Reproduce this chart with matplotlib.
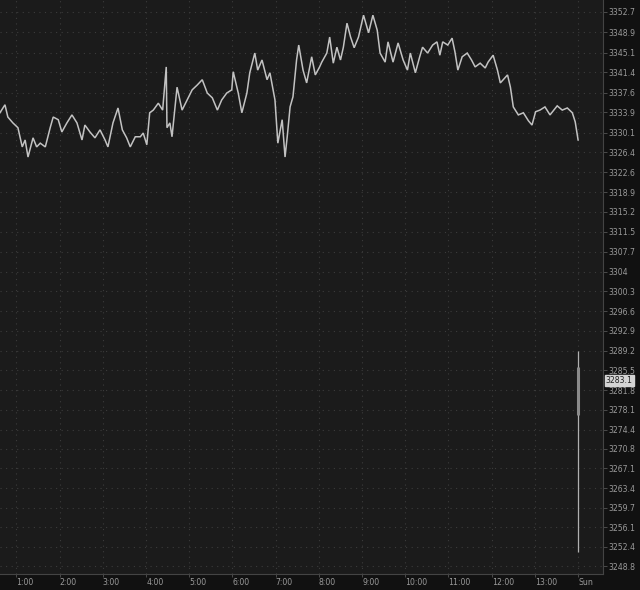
import matplotlib
matplotlib.use("Agg")
import matplotlib.pyplot as plt

# time in minutes since midnight, price values
minutes = [37, 44, 48, 55, 62, 68, 72, 76, 83, 88, 93, 100, 107, 111, 118, 123, 130, 137,
           144, 151, 155, 162, 169, 176, 183, 187, 194, 201, 207, 213, 218, 225, 232, 236,
           241, 245, 250, 257, 263, 268, 269, 273, 276, 283, 290, 297, 304, 311, 318, 325,
           332, 339, 345, 352, 359, 361, 368, 373, 380, 384, 391, 395, 401, 408, 412, 419,
           423, 429, 433, 436, 440, 444, 449, 452, 458, 463, 470, 475, 481, 484, 491, 495,
           500, 505, 510, 514, 519, 524, 529, 535, 542, 549, 555, 561, 565, 572, 576, 583,
           590, 597, 603, 607, 614, 620, 624, 631, 638, 644, 648, 652, 659, 665, 669, 673,
           679, 686, 692, 697, 704, 711, 715, 722, 728, 732, 736, 742, 746, 750, 757, 764,
           771, 776, 781, 787, 794, 801, 811, 818, 825, 832, 836, 840]
prices = [3333.8, 3335.3, 3333.0, 3331.9, 3331.0, 3327.4, 3328.7, 3325.5, 3329.1, 3327.4,
          3328.1, 3327.4, 3331.1, 3333.0, 3332.5, 3330.2, 3331.9, 3333.4, 3331.9, 3328.7,
          3331.5, 3330.2, 3329.1, 3330.6, 3328.7, 3327.4, 3331.9, 3334.7, 3330.6, 3329.1,
          3327.4, 3329.3, 3329.3, 3330.0, 3327.8, 3333.8, 3334.3, 3335.6, 3334.3, 3342.4,
          3331.0, 3331.9, 3329.3, 3338.6, 3334.3, 3336.2, 3338.1, 3339.0, 3340.0, 3337.5,
          3336.6, 3334.3, 3336.2, 3337.5, 3338.1, 3341.5, 3337.5, 3333.8, 3337.5, 3341.3,
          3345.0, 3341.8, 3343.7, 3340.0, 3341.3, 3336.2, 3328.1, 3332.5, 3325.5, 3329.3,
          3334.9, 3336.8, 3343.7, 3346.5, 3341.8, 3339.4, 3344.3, 3340.9, 3342.4, 3343.3,
          3345.0, 3348.0, 3343.1, 3346.1, 3343.7, 3346.1, 3350.6, 3348.0, 3346.0, 3348.0,
          3352.1, 3348.8, 3352.1, 3349.3, 3345.0, 3343.3, 3347.1, 3343.3, 3346.9, 3343.7,
          3341.8, 3345.0, 3341.3, 3344.3, 3346.1, 3345.0, 3346.5, 3347.1, 3344.6, 3347.1,
          3346.5, 3347.8, 3345.2, 3341.8, 3344.3, 3345.0, 3343.7, 3342.4, 3343.1, 3342.2,
          3343.3, 3344.6, 3341.8, 3339.4, 3340.0, 3340.9, 3338.6, 3334.9, 3333.4, 3333.8,
          3332.3, 3331.5, 3334.0, 3334.3, 3334.9, 3333.4, 3335.1, 3334.3, 3334.7, 3333.8,
          3332.1, 3328.7]

# Sunday session candle
sun_minute = 840
sun_high, sun_low = 3289.1, 3251.5
sun_open, sun_close = 3286.2, 3277.1
last_price_label = "3283.1"
last_price = 3283.6

ytick_labels = ["3352.7", "3348.9", "3345.1", "3341.4", "3337.6", "3333.9", "3330.1",
                "3326.4", "3322.6", "3318.9", "3315.2", "3311.5", "3307.7", "3304",
                "3300.3", "3296.6", "3292.9", "3289.2", "3285.5", "3281.8", "3278.1",
                "3274.4", "3270.8", "3267.1", "3263.4", "3259.7", "3256.1", "3252.4",
                "3248.8"]
xtick_minutes = [60, 120, 180, 240, 300, 360, 420, 480, 540, 600, 660, 720, 780, 840]
xtick_labels = ["1:00", "2:00", "3:00", "4:00", "5:00", "6:00", "7:00", "8:00", "9:00",
                "10:00", "11:00", "12:00", "13:00", "Sun"]

fig = plt.figure(figsize=(6.4, 5.9), dpi=100, facecolor="#111111")
ax = fig.add_axes([0.0, 16/590, 603/640, 574/590])
ax.set_facecolor("#1b1b1b")

ax.plot(minutes, prices, color="#c2c2c2", lw=1.1, solid_joinstyle="miter")
ax.vlines(sun_minute, sun_low, sun_high, color="#b0b0b0", lw=0.9)
ax.vlines(sun_minute, sun_close, sun_open, color="#8a8a8a", lw=2.2)

ax.set_xlim(37.1, 874.6)
ax.set_ylim(3247.3, 3354.95)

yvals = [float(v) for v in ytick_labels]
ax.yaxis.tick_right()
ax.set_yticks(yvals)
ax.set_yticklabels(ytick_labels)
ax.set_xticks(xtick_minutes)
ax.set_xticklabels(xtick_labels)
for lab in ax.get_xticklabels():
    lab.set_horizontalalignment("left")

ax.tick_params(axis="y", colors="#555555", labelcolor="#9a9a9a", labelsize=5.6,
               length=3, width=0.6, pad=1)
ax.tick_params(axis="x", colors="#555555", labelcolor="#9a9a9a", labelsize=5.6,
               length=2, width=0.6, pad=1)

ax.grid(True, color="#3c3c3c", linestyle=(0, (1, 4)), lw=0.8)
for s in ["left", "top"]:
    ax.spines[s].set_visible(False)
for s in ["right", "bottom"]:
    ax.spines[s].set_color("#444444")
    ax.spines[s].set_linewidth(0.8)

ax.annotate(last_price_label, xy=(1.0, last_price), xycoords=("axes fraction", "data"),
            xytext=(2, 0), textcoords="offset points", fontsize=5.6, color="#222222",
            va="center", ha="left",
            bbox=dict(boxstyle="square,pad=0.15", fc="#d4d4d4", ec="#d4d4d4"))

fig.savefig("out.png", dpi=100, facecolor=fig.get_facecolor())
